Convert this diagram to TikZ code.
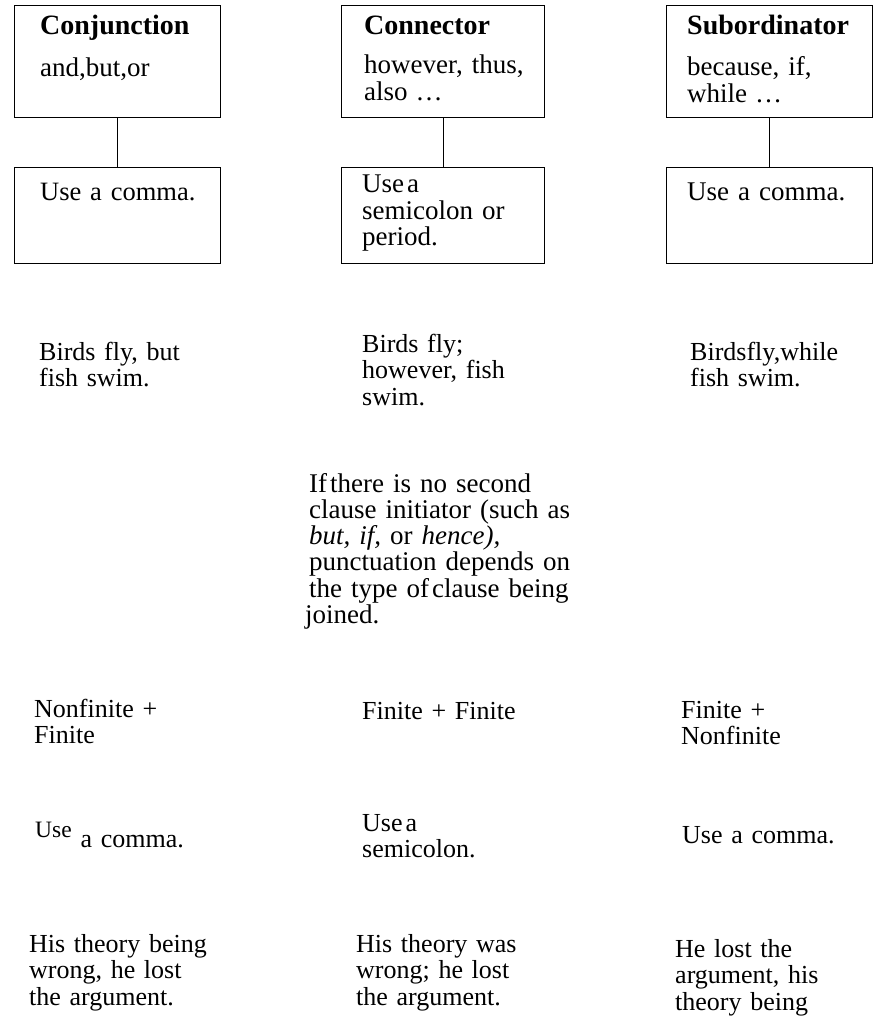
\documentclass[tikz,border=0pt]{standalone}
\usepackage{fontspec}
\setmainfont{Liberation Serif}
\usetikzlibrary{positioning}
\tikzstyle{headbox} = [rectangle, draw=black, line width=0.8pt, minimum width=206pt, minimum height=112pt, inner sep=0pt, anchor=north west]
\tikzstyle{rulebox} = [rectangle, draw=black, line width=0.8pt, minimum width=206pt, minimum height=96pt, inner sep=0pt]
\tikzstyle{boxtext} = [anchor=base west, inner sep=0pt, text width=200pt, align=left, font=\fontsize{27}{26.5}\selectfont]
\tikzstyle{note} = [anchor=base west, inner sep=0pt, text width=300pt, align=left, font=\fontsize{26}{26.5}\selectfont]
\tikzstyle{link} = [line width=0.8pt]
\newcommand{\headword}[1]{{\fontsize{28}{26.5}\selectfont\bfseries #1}}

\begin{document}
\begin{tikzpicture}[x=1pt, y=-1pt]
\useasboundingbox (0,0) rectangle (875,1016);
% the three kinds of initiator and their rule
\node (conj) [headbox] at (14,5) {};
\node (conn) [headbox, minimum width=203pt] at (341,5) {};
\node (sub) [headbox] at (666,5) {};
\node (conjrule) [rulebox, below=49pt of conj] {};
\node (connrule) [rulebox, minimum width=203pt, below=49pt of conn] {};
\node (subrule) [rulebox, below=49pt of sub] {};
\draw [link] (conj) -- (conjrule);
\draw [link] (conn) -- (connrule);
\draw [link] (sub) -- (subrule);
\node (conjhead) [boxtext] at (40,35) {\headword{Conjunction}\\[15pt]and,but,or};
\node (connhead) [boxtext] at (364,35) {\headword{Connector}\\[12.5pt]however, thus,\\also\hspace{8pt}…};
\node (subhead) [boxtext] at (687,35) {\headword{Subordinator}\\[14.5pt]because, if,\\while\hspace{8pt}…};
\node (conjuse) [boxtext, font=\fontsize{26.5}{26.5}\selectfont] at (40,201) {Use a comma.};
\node (connuse) [boxtext] at (362,193) {Use\hspace{3pt}a\\semicolon or\\period.};
\node (subuse) [boxtext] at (687,201) {Use a comma.};
% examples
\node (conjex) [note] at (39,360) {Birds fly, but\\fish swim.};
\node (connex) [note] at (362,352) {Birds fly;\\however, fish\\swim.};
\node (subex) [note] at (690,360) {Birdsfly,while\\fish swim.};
% no initiator
\node (none) [note, font=\fontsize{27}{26.3}\selectfont] at (309,492) {If\hspace{3pt}there is no second\\clause initiator (such as\\\textit{but,} \textit{if,} or \textit{hence),}\\punctuation depends on\\the type of\hspace{3pt}clause being\\\hspace*{-4pt}joined.};
\node (nonfin) [note] at (34,717) {Nonfinite +\\Finite};
\node (finfin) [note] at (362,719) {Finite + Finite};
\node (finnon) [note] at (681,718) {Finite +\\Nonfinite};
\node (nonfinuse) [note] at (35,837) {{\fontsize{23.5}{26.5}\selectfont Use}\hspace{9pt}\raisebox{-10pt}{a comma.}};
\node (finfinuse) [note] at (362,831) {Use\hspace{3pt}a\\semicolon.};
\node (finnonuse) [note] at (682,843) {Use a comma.};
\node (nonfinex) [note] at (29,952) {His theory being\\wrong, he lost\\the argument.};
\node (finfinex) [note] at (356,952) {His theory was\\wrong; he lost\\the argument.};
\node (finnonex) [note] at (675,957) {He lost the\\argument, his\\theory being};
\end{tikzpicture}
\end{document}
